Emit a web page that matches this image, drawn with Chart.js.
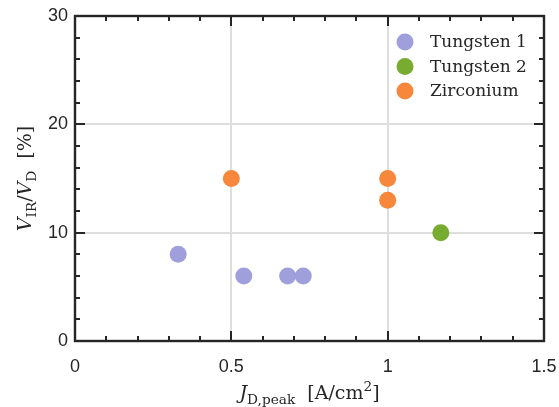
<!DOCTYPE html>
<html><head><meta charset="utf-8">
<script src="https://cdn.jsdelivr.net/npm/chart.js@4"></script>
<style>html,body{margin:0;padding:0;background:#fff}</style>
</head><body>
<canvas id="c" width="559" height="407"></canvas>
<script>
const seriesNames = ['Tungsten 1', 'Tungsten 2', 'Zirconium'];
const tungsten1X = [0.33, 0.54, 0.68, 0.73];
const tungsten1Y = [8, 6, 6, 6];
const tungsten2X = [1.17];
const tungsten2Y = [10];
const zirconiumX = [0.5, 1, 1];
const zirconiumY = [15, 15, 13];
const xTicks = [0, 0.5, 1, 1.5];
const yTicks = [0, 10, 20, 30];
const xMinorStep = 0.1;
const yMinorStep = 2;

const colors = ['#9f9fdc', '#77ac30', '#f7873a'];
const INK = '#262626';
const SERIF = '"DejaVu Serif", serif';

function pts(xs, ys) { return xs.map((v, i) => ({x: v, y: ys[i]})); }

const datasets = [
  {label: seriesNames[0], data: pts(tungsten1X, tungsten1Y)},
  {label: seriesNames[1], data: pts(tungsten2X, tungsten2Y)},
  {label: seriesNames[2], data: pts(zirconiumX, zirconiumY)}
].map((d, i) => Object.assign(d, {
  backgroundColor: colors[i], borderWidth: 0, pointRadius: 8.5, pointHoverRadius: 8.5
}));

function drawRich(ctx, segs, size, draw) {
  let x = 0;
  for (const s of segs) {
    const fs = s.sub || s.sup ? size * 0.72 : size;
    ctx.font = (s.it ? 'italic ' : '') + fs + 'px ' + SERIF;
    const dy = s.sub ? size * 0.28 : (s.sup ? -size * 0.4 : 0);
    if (draw) ctx.fillText(s.t, x, dy);
    x += ctx.measureText(s.t).width;
  }
  return x;
}

const xTitle = [{t: 'J', it: true}, {t: 'D,peak', sub: true}, {t: '  [A/cm'}, {t: '2', sup: true}, {t: ']'}];
const yTitle = [{t: 'V', it: true}, {t: 'IR', sub: true}, {t: '/'}, {t: 'V', it: true}, {t: 'D', sub: true}, {t: '  [%]'}];

const framePlugin = {
  id: 'frame',
  afterDraw(chart) {
    const {ctx, chartArea: a, scales: {x, y}} = chart;
    ctx.save();
    ctx.strokeStyle = INK;
    ctx.lineWidth = 2;
    ctx.lineCap = 'butt';
    const nx = Math.round((x.max - x.min) / xMinorStep);
    for (let i = 0; i <= nx; i++) {
      const v = x.min + i * xMinorStep;
      const major = xTicks.some(t => Math.abs(t - v) < 1e-9);
      const len = major ? 10 : 5;
      const px = Math.round(x.getPixelForValue(v));
      ctx.beginPath();
      ctx.moveTo(px, a.bottom); ctx.lineTo(px, a.bottom - len);
      ctx.moveTo(px, a.top); ctx.lineTo(px, a.top + len);
      ctx.stroke();
    }
    const ny = Math.round((y.max - y.min) / yMinorStep);
    for (let i = 0; i <= ny; i++) {
      const v = y.min + i * yMinorStep;
      const major = yTicks.some(t => Math.abs(t - v) < 1e-9);
      const len = major ? 10 : 5;
      const py = Math.round(y.getPixelForValue(v));
      ctx.beginPath();
      ctx.moveTo(a.left, py); ctx.lineTo(a.left + len, py);
      ctx.moveTo(a.right, py); ctx.lineTo(a.right - len, py);
      ctx.stroke();
    }
    ctx.lineWidth = 2.4;
    ctx.strokeRect(a.left, a.top, a.right - a.left, a.bottom - a.top);

    // legend
    const lx = 405, ly0 = 42, dy = 24.5;
    chart.data.datasets.forEach((d, i) => {
      const yy = ly0 + i * dy;
      ctx.fillStyle = d.backgroundColor;
      ctx.beginPath(); ctx.arc(lx, yy, 8.5, 0, Math.PI * 2); ctx.fill();
      ctx.fillStyle = INK;
      ctx.font = '17px ' + SERIF;
      ctx.textBaseline = 'middle';
      ctx.textAlign = 'left';
      ctx.fillText(d.label, 430, yy + 1);
    });

    // axis titles
    ctx.fillStyle = INK;
    ctx.textBaseline = 'alphabetic';
    ctx.textAlign = 'left';
    const size = 19;
    let w = drawRich(ctx, xTitle, size, false);
    ctx.save();
    ctx.translate((a.left + a.right) / 2 - w / 2, 399);
    drawRich(ctx, xTitle, size, true);
    ctx.restore();

    w = drawRich(ctx, yTitle, size, false);
    ctx.save();
    ctx.translate(31, (a.top + a.bottom) / 2 + w / 2);
    ctx.rotate(-Math.PI / 2);
    drawRich(ctx, yTitle, size, true);
    ctx.restore();
    ctx.restore();
  }
};

new Chart(document.getElementById('c'), {
  type: 'scatter',
  data: {datasets},
  options: {
    responsive: false,
    animation: false,
    events: [],
    layout: {padding: {top: 16, right: 15, left: 0, bottom: 0}, autoPadding: false},
    plugins: {legend: {display: false}, tooltip: {enabled: false}},
    scales: {
      x: {
        type: 'linear', min: 0, max: 1.5,
        afterBuildTicks: s => { s.ticks = xTicks.map(v => ({value: v})); },
        afterFit: s => { s.height = 66; s.paddingLeft = 0; s.paddingRight = 0; },
        border: {display: false},
        grid: {color: '#dedede', lineWidth: 2, drawTicks: false},
        ticks: {color: INK, padding: 15, font: {family: '"Liberation Sans", Arial', size: 18},
                callback: v => String(v), maxRotation: 0}
      },
      y: {
        type: 'linear', min: 0, max: 30,
        afterBuildTicks: s => { s.ticks = yTicks.map(v => ({value: v})); },
        afterFit: s => { s.width = 75; s.paddingTop = 0; s.paddingBottom = 0; },
        border: {display: false},
        grid: {color: '#dedede', lineWidth: 2, drawTicks: false},
        ticks: {color: INK, padding: 7, font: {family: '"Liberation Sans", Arial', size: 18},
                callback: v => String(v)}
      }
    }
  },
  plugins: [framePlugin]
});
</script>
</body></html>
